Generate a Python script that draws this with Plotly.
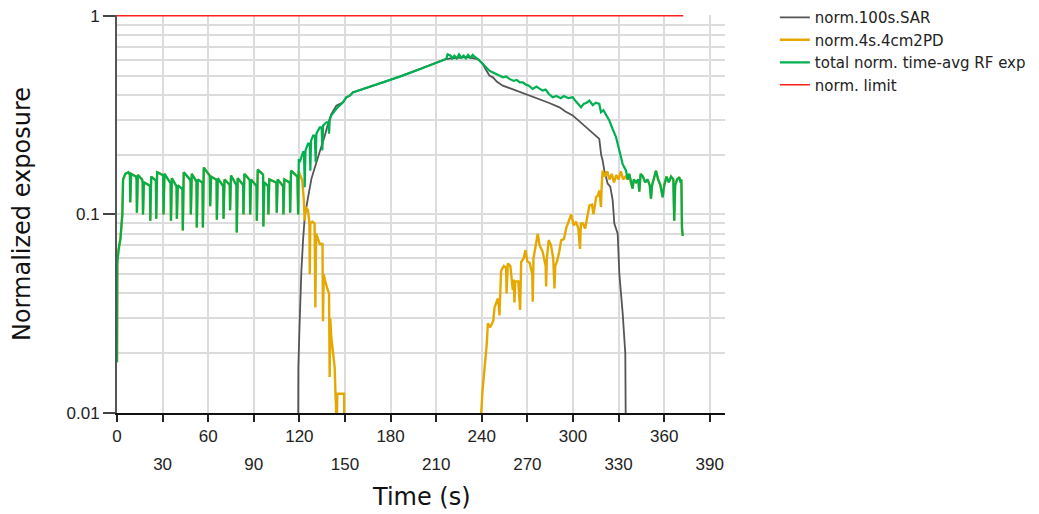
import plotly.graph_objects as go

# ---------------- data ----------------
green_t = [0, 0.2, 1.0, 2.3, 3.5, 4.0, 5.5, 7.5,
           8.5, 8.7, 9.3, 12.5, 12.9, 13.1, 13.7, 16.5, 16.9, 17.1, 17.7, 21.3,
           21.7, 21.9, 22.5, 25.2, 25.6, 25.8, 26.4, 30.0, 30.4, 30.6, 31.2, 34.9,
           35.3, 35.5, 36.1, 38.8, 39.2, 39.4, 40.0, 42.7, 43.1, 43.3, 43.9, 48.0,
           48.4, 48.6, 49.2, 51.9, 52.3, 52.5, 53.1, 55.9, 56.3, 56.5, 57.1, 60.7,
           61.1, 61.3, 61.9, 65.1, 65.5, 65.7, 66.3, 69.5, 69.9, 70.1, 70.7, 73.8,
           74.2, 74.4, 75.0, 78.2, 78.6, 78.8, 79.4, 82.6, 83.0, 83.2, 83.8, 87.0,
           87.4, 87.6, 88.2, 91.4, 91.8, 92.0, 92.6, 95.7, 96.1, 96.3, 96.9, 99.0,
           99.4, 99.6, 100.2, 104.5, 104.9, 105.1, 105.7, 108.9, 109.3, 109.5, 110.1, 113.3,
           113.7, 113.9, 114.5, 118.7, 119.0, 119.2, 119.6,
           120.2, 122.4, 123.0, 123.5, 124.0, 125.7, 126.8, 127.2, 127.7, 129.0, 130.2,
           130.7, 131.2, 133.4, 134.6, 135.1, 135.6, 137.8, 139.0, 139.5, 140.0, 141.0,
           144.3, 148.7, 151.0, 153.1, 155.3, 157.5, 164.0, 175.0, 186.0, 197.0, 207.8,
           216.6, 217.5, 219.5, 220.5, 222.0, 223.5, 225.0, 226.5, 228.0, 229.5, 231.0,
           232.5, 234.0, 235.5, 237.4,
           240.7, 243.0, 245.0, 247.0, 249.5, 252.0, 254.0, 256.0, 258.2, 261.0, 263.0,
           265.0, 267.0, 269.0, 271.0, 273.5, 276.0, 278.0, 280.0, 282.0, 284.0, 286.7,
           289.0, 292.0, 294.0, 297.0, 299.8, 302.0, 305.3, 307.0, 309.0, 310.8, 313.0,
           315.0, 317.3, 318.4, 320.0, 322.0, 323.9, 326.0, 328.3, 330.5, 331.5, 332.7,
           334.9,
           336.0, 337.0, 338.0, 339.2, 340.0, 341.5, 343.0, 343.6, 344.5, 346.0, 347.5,
           349.0, 350.5, 351.3, 352.0, 353.0, 354.6, 356.0, 357.5, 359.0, 360.0, 361.5,
           363.0, 364.5, 366.0, 366.6, 367.2, 368.5, 369.9, 370.8, 371.3, 371.7, 372.2]
green_v = [0.018, 0.057, 0.066, 0.076, 0.10, 0.15, 0.16, 0.163,
           0.158, 0.115, 0.160, 0.155, 0.150, 0.102, 0.158, 0.150, 0.145, 0.100, 0.145, 0.140,
           0.138, 0.093, 0.155, 0.150, 0.148, 0.095, 0.163, 0.158, 0.155, 0.100, 0.160, 0.145,
           0.143, 0.093, 0.152, 0.140, 0.138, 0.095, 0.140, 0.135, 0.133, 0.083, 0.163, 0.150,
           0.148, 0.100, 0.160, 0.148, 0.146, 0.086, 0.150, 0.145, 0.143, 0.086, 0.172, 0.158,
           0.155, 0.110, 0.155, 0.150, 0.148, 0.094, 0.152, 0.140, 0.138, 0.095, 0.150, 0.142,
           0.140, 0.105, 0.157, 0.142, 0.140, 0.081, 0.152, 0.142, 0.140, 0.100, 0.160, 0.150,
           0.148, 0.100, 0.150, 0.140, 0.138, 0.093, 0.168, 0.160, 0.158, 0.087, 0.145, 0.140,
           0.138, 0.100, 0.150, 0.145, 0.143, 0.102, 0.150, 0.140, 0.138, 0.100, 0.150, 0.145,
           0.143, 0.102, 0.166, 0.155, 0.100, 0.100, 0.190,
           0.183, 0.206, 0.206, 0.137, 0.210, 0.227, 0.227, 0.166, 0.235, 0.249, 0.249,
           0.183, 0.255, 0.274, 0.274, 0.210, 0.280, 0.291, 0.291, 0.255, 0.300, 0.315,
           0.340, 0.367, 0.389, 0.396, 0.412, 0.417, 0.433, 0.462, 0.494, 0.530, 0.572,
           0.606, 0.640, 0.630, 0.610, 0.630, 0.610, 0.640, 0.615, 0.630, 0.610, 0.635,
           0.615, 0.635, 0.620, 0.606,
           0.572, 0.545, 0.529, 0.520, 0.509, 0.500, 0.490, 0.495, 0.481, 0.470, 0.475,
           0.462, 0.462, 0.450, 0.445, 0.428, 0.440, 0.430, 0.420, 0.425, 0.405, 0.389,
           0.395, 0.385, 0.395, 0.385, 0.389, 0.370, 0.346, 0.360, 0.365, 0.374, 0.355,
           0.365, 0.360, 0.327, 0.335, 0.315, 0.297, 0.270, 0.245, 0.210, 0.195, 0.179,
           0.166,
           0.150, 0.160, 0.145, 0.135, 0.150, 0.145, 0.150, 0.130, 0.160, 0.155, 0.145,
           0.150, 0.140, 0.120, 0.140, 0.150, 0.166, 0.150, 0.140, 0.122, 0.140, 0.155,
           0.145, 0.155, 0.150, 0.093, 0.140, 0.150, 0.154, 0.145, 0.150, 0.085, 0.078]

sar_t = [118.9, 119.1, 119.3, 120.2, 120.7, 121.3, 122.4, 123.5, 125.7, 127.9, 131.2,
         134.5, 136.7, 138.8, 141.0, 144.3, 148.7, 151.0, 153.1, 155.3, 157.5, 164.0,
         175.0, 186.0, 197.0, 207.8, 216.6, 220.0, 230.0, 237.4, 240.7, 243.0, 245.0,
         247.3, 250.0, 253.8, 259.0, 264.8, 271.0, 277.9, 284.0, 291.1, 295.0, 299.8,
         304.0, 308.6, 312.0, 316.2, 317.3, 318.5, 319.5, 320.6, 322.8, 324.5, 326.1,
         327.2, 329.4, 330.5, 332.7, 334.4, 335.3, 335.5]
sar_v = [0.001, 0.010, 0.017, 0.029, 0.042, 0.052, 0.074, 0.097, 0.122, 0.151, 0.183,
         0.218, 0.249, 0.285, 0.320, 0.353, 0.367, 0.389, 0.396, 0.412, 0.417, 0.433,
         0.462, 0.494, 0.530, 0.572, 0.606, 0.610, 0.620, 0.606, 0.572, 0.530, 0.500,
         0.490, 0.465, 0.445, 0.430, 0.412, 0.397, 0.381, 0.365, 0.346, 0.330, 0.315,
         0.295, 0.274, 0.260, 0.245, 0.240, 0.200, 0.187, 0.166, 0.143, 0.138, 0.118,
         0.090, 0.080, 0.050, 0.0317, 0.020, 0.010, 0.001]

# PD: equal to the total before SAR appears, its own course in between, equal again at the end
pd_mid_t = [119.5, 120.2, 121.9, 122.9, 123.5, 124.0, 125.7, 126.6, 126.8, 127.2, 128.5,
            130.0, 130.5, 131.0, 132.5, 133.4, 135.2, 135.5, 136.0, 136.7, 138.5, 139.5,
            139.9, 140.3, 141.0, 141.6, 142.1, 143.2, 143.8, 144.1, 144.3, 144.9, 149.4,
            149.6,
            239.4, 239.6, 240.5, 241.8, 243.3, 244.0, 245.5, 247.5, 248.4, 250.5, 251.0,
            251.6, 252.2, 252.7, 254.5, 256.0, 256.3, 256.7, 257.1, 258.8, 260.0, 260.4,
            261.0, 261.5, 262.0, 264.0, 265.2, 265.6, 265.9, 267.5, 268.7, 270.0, 271.5,
            273.2, 273.5, 274.0, 275.5, 276.8, 278.0, 280.0, 282.0, 282.3, 282.8, 284.0,
            285.5, 287.0, 287.8, 288.3, 289.5, 291.0, 292.2, 294.0, 295.5, 296.6, 298.8,
            300.5, 302.0, 303.5, 304.6, 305.2, 306.5, 308.0, 309.5, 310.8, 312.5, 313.5,
            315.2, 316.5, 317.3, 318.0, 318.4, 318.9, 319.5, 321.0, 322.5, 324.0, 325.5,
            327.0, 328.5, 330.0, 331.5, 333.0, 334.4]
pd_mid_v = [0.165, 0.160, 0.148, 0.118, 0.093, 0.109, 0.105, 0.090, 0.050, 0.090, 0.092,
            0.090, 0.034, 0.080, 0.075, 0.071, 0.071, 0.029, 0.050, 0.047, 0.042, 0.040,
            0.0152, 0.030, 0.024, 0.022, 0.0193, 0.017, 0.012, 0.011, 0.005, 0.0125, 0.0125,
            0.005,
            0.005, 0.010, 0.013, 0.0163, 0.0224, 0.0283, 0.027, 0.029, 0.034, 0.0377, 0.036,
            0.031, 0.045, 0.052, 0.055, 0.054, 0.040, 0.055, 0.0566, 0.055, 0.045, 0.0416,
            0.047, 0.036, 0.046, 0.046, 0.033, 0.050, 0.0576, 0.060, 0.066, 0.058, 0.057,
            0.050, 0.0363, 0.060, 0.070, 0.080, 0.070, 0.065, 0.055, 0.0433, 0.060, 0.0743,
            0.070, 0.060, 0.0424, 0.055, 0.058, 0.065, 0.074, 0.075, 0.085, 0.090, 0.100,
            0.088, 0.092, 0.085, 0.067, 0.090, 0.090, 0.085, 0.100, 0.111, 0.112, 0.100,
            0.122, 0.125, 0.132, 0.118, 0.109, 0.140, 0.166, 0.155, 0.165, 0.150, 0.160,
            0.145, 0.158, 0.150, 0.165, 0.150, 0.155]

limit_t = [0, 372.5]
limit_v = [1.0, 1.0]

x_ticks_row1 = [0, 60, 120, 180, 240, 300, 360]
x_ticks_row2 = [30, 90, 150, 210, 270, 330, 390]
y_ticks = [0.01, 0.1, 1]
y_tick_text = ["0.01", "0.1", "1"]
y_minor = [0.02, 0.03, 0.04, 0.05, 0.06, 0.07, 0.08, 0.09,
           0.2, 0.3, 0.4, 0.5, 0.6, 0.7, 0.8, 0.9]

names = ["norm.100s.SAR", "norm.4s.4cm2PD", "total norm. time-avg RF exp", "norm. limit"]
colors = ["#555555", "#e6a800", "#00b050", "#ff1e1e"]

# assemble PD series from the pieces
n_pre = sum(1 for t in green_t if t <= 119.2)
n_post = sum(1 for t in green_t if t < 336.0)
pd_t = green_t[:n_pre] + pd_mid_t + green_t[n_post:]
pd_v = green_v[:n_pre] + pd_mid_v + green_v[n_post:]

# ---------------- figure ----------------
fig = go.Figure()
fig.add_trace(go.Scatter(x=sar_t, y=sar_v, mode="lines", name=names[0],
                         line=dict(color=colors[0], width=1.8)))
fig.add_trace(go.Scatter(x=pd_t, y=pd_v, mode="lines", name=names[1],
                         line=dict(color=colors[1], width=2.4)))
fig.add_trace(go.Scatter(x=green_t, y=green_v, mode="lines", name=names[2],
                         line=dict(color=colors[2], width=2.2)))
fig.add_trace(go.Scatter(x=limit_t, y=limit_v, mode="lines", name=names[3], xaxis="x2",
                         line=dict(color=colors[3], width=1.6)))

tick_font = dict(family="Liberation Sans, Arial, sans-serif", size=17, color="#222222")
title_font = dict(family="DejaVu Sans, Verdana, sans-serif", size=24, color="#111111")

all_x = sorted(x_ticks_row1 + x_ticks_row2)
# the page body adds an 8 px offset, so the figure is 8 px smaller and margins shifted
fig.update_layout(
    width=1031, height=506,
    margin=dict(l=109, r=314, t=7, b=101, autoexpand=False),
    paper_bgcolor="white", plot_bgcolor="white",
    showlegend=True,
    legend=dict(x=1.082, y=1.035, xanchor="left", yanchor="top",
                font=dict(family="DejaVu Sans, Verdana, sans-serif", size=15, color="#222222"),
                bgcolor="rgba(0,0,0,0)", itemwidth=30, tracegroupgap=0),
    xaxis=dict(range=[0, 400], tickmode="array", tickvals=all_x,
               ticktext=[str(v) if v in x_ticks_row1 else "" for v in all_x],
               ticks="outside", ticklen=7, tickwidth=1.5, tickcolor="#222222",
               ticklabelstandoff=0,
               showgrid=True, gridcolor="#dcdcdc", gridwidth=1.5,
               showline=True, linecolor="#111111", linewidth=2,
               zeroline=False, tickfont=tick_font),
    xaxis2=dict(range=[0, 400], overlaying="x", anchor="y", side="bottom",
                tickmode="array", tickvals=x_ticks_row2,
                ticktext=[str(v) for v in x_ticks_row2],
                ticks="", showgrid=False, showline=False, zeroline=False,
                ticklabelstandoff=39, tickfont=tick_font),
    yaxis=dict(type="log", range=[-2, 0.004], tickmode="array", tickvals=y_ticks,
               ticktext=y_tick_text, ticks="outside", ticklen=12, tickwidth=1.5,
               tickcolor="#444444", ticklabeloverflow="allow",
               showgrid=True, gridcolor="#dcdcdc", gridwidth=1.5,
               minor=dict(tickmode="array", tickvals=y_minor, showgrid=True,
                          gridcolor="#dcdcdc", gridwidth=1.5, ticks=""),
               showline=True, linecolor="#555555", linewidth=2,
               zeroline=False, tickfont=tick_font),
    annotations=[
        dict(text="Time (s)", xref="paper", yref="paper", x=0.5, y=-0.211,
             xanchor="center", yanchor="middle", showarrow=False, font=title_font),
        dict(text="Normalized exposure", xref="paper", yref="paper", x=-0.1562, y=0.5,
             xanchor="center", yanchor="middle", showarrow=False, textangle=-90,
             font=title_font),
    ],
)

fig.write_html("out.html")
